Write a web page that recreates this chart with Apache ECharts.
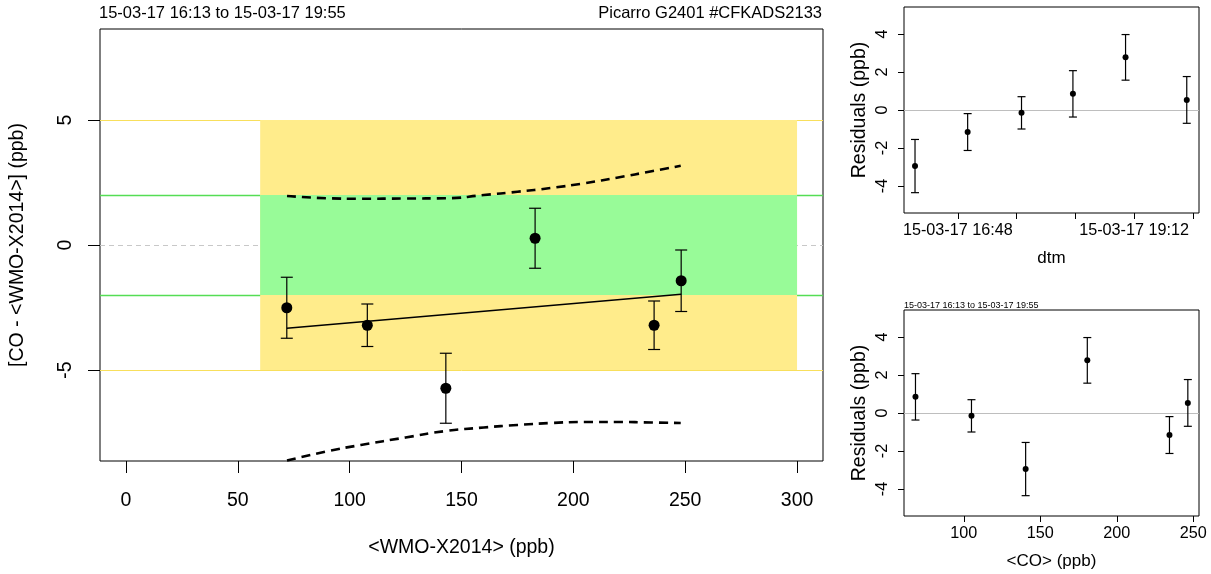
<!DOCTYPE html>
<html>
<head>
<meta charset="utf-8">
<script src="https://cdn.jsdelivr.net/npm/echarts@6/dist/echarts.min.js"></script>
<style>
  html, body { margin: 0; padding: 0; background: #fff; }
  #chart_container { width: 1211px; height: 574px; }
</style>
</head>
<body>
<div id="chart_container"></div>
<script>
// calibration check: CO analyser vs WMO-X2014 cylinders, with residual panels

// samples in time order
var sampleTime  = ['2015-03-17 16:13', '2015-03-17 16:56', '2015-03-17 17:40',
                   '2015-03-17 18:22', '2015-03-17 19:05', '2015-03-17 19:55'];
var wmoValue    = [143.0, 236.1, 107.9, 71.9, 182.9, 248.2];   // <WMO-X2014> (ppb)
var coValue     = [140.4, 234.4, 105.0, 68.4, 180.7, 246.4];   // <CO> (ppb)
var diffValue   = [-5.73, -3.21, -3.21, -2.51, 0.27, -1.43];   // CO - WMO (ppb)
var residual    = [-2.95, -1.16, -0.15, 0.85, 2.77, 0.53];     // residuals (ppb)
var uncertainty = [1.40, 0.97, 0.85, 1.22, 1.20, 1.23];        // error bar half length

// fitted line and its confidence band
var fitX = [71.9, 248.2];
var fitY = [-3.33, -1.97];
var confX     = [72, 90, 105, 125, 143, 160, 175, 190, 205, 220, 235, 248];
var confUpper = [1.96, 1.87, 1.85, 1.86, 1.87, 2.0, 2.13, 2.28, 2.47, 2.7, 2.95, 3.17];
var confLower = [-8.62, -8.25, -8.0, -7.7, -7.44, -7.3, -7.2, -7.12, -7.08, -7.08, -7.1, -7.12];

// compatibility goals
var goalRange = [60, 300];
var extendedGoal = 5;
var networkGoal = 2;

// tick values
var wmoTicks  = [0, 50, 100, 150, 200, 250, 300];
var diffTicks = [-5, 0, 5];
var resTicks  = [-4, -2, 0, 2, 4];
var timeTicks = ['2015-03-17 16:48', '2015-03-17 17:36', '2015-03-17 18:24',
                 '2015-03-17 19:12', '2015-03-17 20:00'];
var timeLabels = ['2015-03-17 16:48', '2015-03-17 19:12'];
var coTicks   = [100, 150, 200, 250];

var periodText = '15-03-17 16:13 to 15-03-17 19:55';
var instrumentText = 'Picarro G2401 #CFKADS2133';


var FONT = "'Liberation Sans', Arial, sans-serif";

function toMs(s) {
    return new Date(s.replace(' ', 'T') + ':00').getTime();
}
function pad(n) {
    return String(n).padStart(2, '0');
}
function fmtTime(v) {
    var d = new Date(v);
    return pad(d.getFullYear() % 100) + '-' + pad(d.getMonth() + 1) + '-' + pad(d.getDate()) +
        ' ' + pad(d.getHours()) + ':' + pad(d.getMinutes());
}

// error bars drawn through the axis scales
function errorBarRenderer(capHalf, width) {
    return function (params, api) {
        var x = api.value(0);
        var top = api.coord([x, api.value(2)]);
        var bot = api.coord([x, api.value(1)]);
        var st = { stroke: '#000', lineWidth: width };
        return {
            type: 'group',
            children: [
                { type: 'line', shape: { x1: top[0], y1: top[1], x2: bot[0], y2: bot[1] }, style: st },
                { type: 'line', shape: { x1: top[0] - capHalf, y1: top[1], x2: top[0] + capHalf, y2: top[1] }, style: st },
                { type: 'line', shape: { x1: bot[0] - capHalf, y1: bot[1], x2: bot[0] + capHalf, y2: bot[1] }, style: st }
            ]
        };
    };
}

function bandRenderer(params, api) {
    var p0 = api.coord([api.value(0), api.value(3)]);
    var p1 = api.coord([api.value(1), api.value(2)]);
    return {
        type: 'rect',
        shape: { x: p0[0], y: p0[1], width: p1[0] - p0[0], height: p1[1] - p0[1] },
        style: { fill: api.visual('color') }
    };
}

var mainPoints = [], mainErr = [];
var timePoints = [], timeErr = [];
var coPoints = [], coErr = [];
for (let i = 0; i < sampleTime.length; i++) {
    let t = toMs(sampleTime[i]);
    mainPoints.push([wmoValue[i], diffValue[i]]);
    mainErr.push([wmoValue[i], diffValue[i] - uncertainty[i], diffValue[i] + uncertainty[i]]);
    timePoints.push([t, residual[i]]);
    timeErr.push([t, residual[i] - uncertainty[i], residual[i] + uncertainty[i]]);
    coPoints.push([coValue[i], residual[i]]);
    coErr.push([coValue[i], residual[i] - uncertainty[i], residual[i] + uncertainty[i]]);
}
var fitLine = fitX.map((x, i) => [x, fitY[i]]);
var upperLine = confX.map((x, i) => [x, confUpper[i]]);
var lowerLine = confX.map((x, i) => [x, confLower[i]]);

var axisText = { color: '#000', fontFamily: FONT };

function valueAxis(o) {
    var big = o.big;
    return {
        gridIndex: o.grid,
        type: 'value',
        min: o.min,
        max: o.max,
        axisLine: { show: false, onZero: false },
        axisTick: {
            show: true,
            length: big ? 12 : 6,
            customValues: o.ticks,
            lineStyle: { color: '#000', width: 1 }
        },
        axisLabel: Object.assign({
            customValues: o.labels || o.ticks,
            fontSize: big ? 19.5 : 16.2,
            margin: o.margin,
            rotate: o.rotate || 0,
            hideOverlap: false,
            showMinLabel: true,
            showMaxLabel: true,
            formatter: o.formatter
        }, axisText),
        splitLine: { show: false },
        name: o.name,
        nameLocation: 'middle',
        nameGap: o.nameGap,
        nameTextStyle: Object.assign({ fontSize: o.nameSize || (big ? 19.5 : 17) }, axisText)
    };
}

var chartDom = document.getElementById('chart_container');
var myChart = echarts.init(chartDom, null, { renderer: 'canvas' });

var option = {
    animation: false,
    backgroundColor: '#fff',
    title: [
        {
            text: periodText, left: 94, top: 0,
            textStyle: { fontSize: 16.5, fontWeight: 'normal', color: '#000', fontFamily: FONT }
        },
        {
            text: instrumentText, right: 384, top: 0,
            textStyle: { fontSize: 16.5, fontWeight: 'normal', color: '#000', fontFamily: FONT }
        },
        {
            text: periodText, left: 899, top: 296,
            textStyle: { fontSize: 9, fontWeight: 'normal', color: '#000', fontFamily: FONT }
        }
    ],
    grid: [
        { left: 100, top: 29, right: 388, bottom: 113, show: true, borderColor: '#000', borderWidth: 1 },
        { left: 904, top: 7, right: 12, bottom: 361, show: true, borderColor: '#000', borderWidth: 1 },
        { left: 904, top: 310, right: 12, bottom: 58, show: true, borderColor: '#000', borderWidth: 1 }
    ],
    xAxis: [
        valueAxis({ grid: 0, big: true, min: -11.6, max: 311.6, ticks: wmoTicks, margin: 30,
                    name: '<WMO-X2014> (ppb)', nameGap: 77 }),
        valueAxis({ grid: 1, min: toMs('2015-03-17 16:04'), max: toMs('2015-03-17 20:05'),
                    ticks: timeTicks.map(toMs), labels: timeLabels.map(toMs), margin: 10,
                    formatter: fmtTime, name: 'dtm', nameGap: 37 }),
        valueAxis({ grid: 2, min: 60.9, max: 253.7, ticks: coTicks, margin: 10,
                    name: '<CO> (ppb)', nameGap: 37 })
    ],
    yAxis: [
        valueAxis({ grid: 0, big: true, min: -8.64, max: 8.64, ticks: diffTicks, rotate: 90, margin: 24,
                    name: '[CO - <WMO-X2014>] (ppb)', nameGap: 72 }),
        valueAxis({ grid: 1, min: -5.42, max: 5.42, ticks: resTicks, rotate: 90, margin: 13,
                    name: 'Residuals (ppb)', nameGap: 34, nameSize: 19.5 }),
        valueAxis({ grid: 2, min: -5.42, max: 5.42, ticks: resTicks, rotate: 90, margin: 13,
                    name: 'Residuals (ppb)', nameGap: 34, nameSize: 19.5 })
    ],
    series: [
        // goal bands
        {
            name: 'extended goal', type: 'custom', xAxisIndex: 0, yAxisIndex: 0, z: 2,
            color: '#FFEC8B', silent: true,
            renderItem: bandRenderer,
            data: [[goalRange[0], goalRange[1], -extendedGoal, extendedGoal]]
        },
        {
            name: 'network goal', type: 'custom', xAxisIndex: 0, yAxisIndex: 0, z: 2,
            color: '#98FB98', silent: true,
            renderItem: bandRenderer,
            data: [[goalRange[0], goalRange[1], -networkGoal, networkGoal]]
        },
        // fit line, with goal lines as markLine
        {
            name: 'fit', type: 'line', xAxisIndex: 0, yAxisIndex: 0, z: 4,
            data: fitLine, symbol: 'none', silent: true,
            lineStyle: { color: '#000', width: 1.5 },
            markLine: {
                z: 1, silent: true, symbol: 'none', animation: false,
                label: { show: false },
                data: [
                    { yAxis: extendedGoal, lineStyle: { color: '#F8DF5C', width: 1, type: 'solid' } },
                    { yAxis: -extendedGoal, lineStyle: { color: '#F8DF5C', width: 1, type: 'solid' } },
                    { yAxis: networkGoal, lineStyle: { color: '#55DD55', width: 1.3, type: 'solid' } },
                    { yAxis: -networkGoal, lineStyle: { color: '#55DD55', width: 1.3, type: 'solid' } },
                    { yAxis: 0, lineStyle: { color: '#C8C8C8', width: 1, type: [5, 4] } }
                ]
            }
        },
        {
            name: 'upper', type: 'line', xAxisIndex: 0, yAxisIndex: 0, z: 4,
            data: upperLine, symbol: 'none', smooth: true, silent: true,
            lineStyle: { color: '#000', width: 2.6, type: [9, 6] }
        },
        {
            name: 'lower', type: 'line', xAxisIndex: 0, yAxisIndex: 0, z: 4,
            data: lowerLine, symbol: 'none', smooth: true, silent: true,
            lineStyle: { color: '#000', width: 2.6, type: [9, 6] }
        },
        {
            name: 'diff err', type: 'custom', xAxisIndex: 0, yAxisIndex: 0, z: 5,
            renderItem: errorBarRenderer(6, 1.2), data: mainErr, silent: true
        },
        {
            name: 'diff', type: 'scatter', xAxisIndex: 0, yAxisIndex: 0, z: 6,
            data: mainPoints, symbol: 'circle', symbolSize: 11, silent: true,
            itemStyle: { color: '#000', opacity: 1 }
        },
        // residuals vs time
        {
            name: 'res time err', type: 'custom', xAxisIndex: 1, yAxisIndex: 1, z: 5,
            renderItem: errorBarRenderer(4, 1.2), data: timeErr, silent: true
        },
        {
            name: 'res time', type: 'scatter', xAxisIndex: 1, yAxisIndex: 1, z: 6,
            data: timePoints, symbol: 'circle', symbolSize: 6, silent: true,
            itemStyle: { color: '#000', opacity: 1 },
            markLine: {
                z: 1, silent: true, symbol: 'none', animation: false, label: { show: false },
                data: [{ yAxis: 0, lineStyle: { color: '#BEBEBE', width: 1, type: 'solid' } }]
            }
        },
        // residuals vs CO
        {
            name: 'res co err', type: 'custom', xAxisIndex: 2, yAxisIndex: 2, z: 5,
            renderItem: errorBarRenderer(4, 1.2), data: coErr, silent: true
        },
        {
            name: 'res co', type: 'scatter', xAxisIndex: 2, yAxisIndex: 2, z: 6,
            data: coPoints, symbol: 'circle', symbolSize: 6, silent: true,
            itemStyle: { color: '#000', opacity: 1 },
            markLine: {
                z: 1, silent: true, symbol: 'none', animation: false, label: { show: false },
                data: [{ yAxis: 0, lineStyle: { color: '#BEBEBE', width: 1, type: 'solid' } }]
            }
        }
    ]
};

myChart.setOption(option);
</script>
</body>
</html>
